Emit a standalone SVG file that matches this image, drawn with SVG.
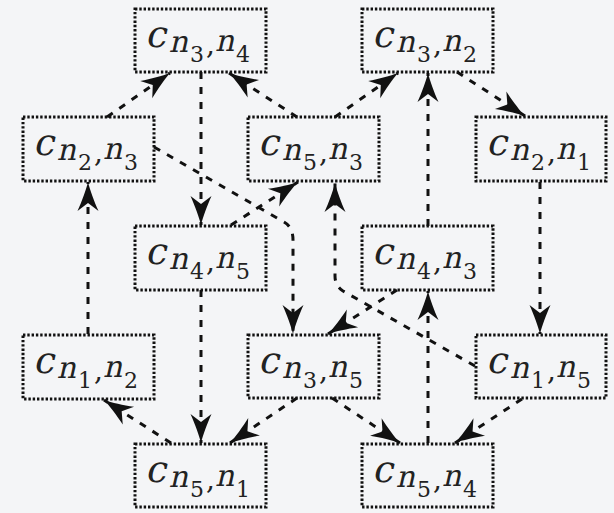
<svg xmlns="http://www.w3.org/2000/svg" width="614" height="513" viewBox="0 0 614 513">
  <style>
    .box { fill: none; stroke: #111; stroke-width: 3; stroke-dasharray: 2.4 1.9; }
    .edge { fill: none; stroke: #111; stroke-width: 3; stroke-dasharray: 7 8; marker-end: url(#head); }
    .lbl { font-family: "DejaVu Serif", serif; fill: #222; }
    .c { font-size: 37px; }
    .n { font-size: 30px; }
    .d { font-size: 22px; }
    .k { font-size: 28px; }
  </style>
  <defs>
    <!-- concave spearhead arrow, tip at (30,11) -->
    <marker id="head" markerUnits="userSpaceOnUse" markerWidth="32" markerHeight="24" refX="30" refY="11" orient="auto" overflow="visible">
      <path d="M30,11 C22,9 11,5 1,0.5 L9,11 L1,21.5 C11,17 22,13 30,11 Z" fill="#111"/>
    </marker>
  </defs>

  <rect width="614" height="513" fill="#f4f5f7"/>

  <!-- connectors -->
  <g id="edges">
    <path class="edge" d="M107,117 L170,73"/>
    <path class="edge" d="M201,72 L201,225"/>
    <path class="edge" d="M297,117 L229,73"/>
    <path class="edge" d="M335,117 L398,73"/>
    <path class="edge" d="M428,226 L428,73"/>
    <path class="edge" d="M457,72 L525,116"/>
    <path class="edge" d="M540,182 L540,334"/>
    <path class="edge" d="M88,334 L88,182"/>
    <path class="edge" d="M231,225 L298,182"/>
    <path class="edge" d="M154,147 L284,222 Q293,227 293,240 L293,334"/>
    <path class="edge" d="M475,366 L343,291 Q335,286 335,276 L335,183"/>
    <path class="edge" d="M397,290 L328,334"/>
    <path class="edge" d="M201,290 L201,443"/>
    <path class="edge" d="M171,443 L104,400"/>
    <path class="edge" d="M297,398 L230,443"/>
    <path class="edge" d="M332,398 L400,443"/>
    <path class="edge" d="M522,399 L455,443"/>
    <path class="edge" d="M428,443 L428,291"/>
  </g>

  <!-- nodes: letters are slanted, indices stay upright -->
  <g id="n3n4" transform="translate(135,9)">
    <rect class="box" width="131" height="63"/>
    <text class="lbl" transform="translate(0,42) skewX(-13) translate(0,-42)"><tspan class="c" x="9" y="38">c</tspan><tspan class="n" x="34" y="43">n</tspan><tspan class="n" x="80" y="42">n</tspan></text>
    <text class="lbl"><tspan class="d" x="55" y="53">3</tspan><tspan class="k" x="71" y="45">,</tspan><tspan class="d" x="101" y="53">4</tspan></text>
  </g>
  <g id="n3n2" transform="translate(362,9)">
    <rect class="box" width="131" height="63"/>
    <text class="lbl" transform="translate(0,42) skewX(-13) translate(0,-42)"><tspan class="c" x="9" y="38">c</tspan><tspan class="n" x="34" y="43">n</tspan><tspan class="n" x="80" y="42">n</tspan></text>
    <text class="lbl"><tspan class="d" x="55" y="53">3</tspan><tspan class="k" x="71" y="45">,</tspan><tspan class="d" x="101" y="53">2</tspan></text>
  </g>
  <g id="n2n3" transform="translate(23,117)">
    <rect class="box" width="131" height="64"/>
    <text class="lbl" transform="translate(0,42) skewX(-13) translate(0,-42)"><tspan class="c" x="9" y="38">c</tspan><tspan class="n" x="34" y="43">n</tspan><tspan class="n" x="80" y="42">n</tspan></text>
    <text class="lbl"><tspan class="d" x="55" y="53">2</tspan><tspan class="k" x="71" y="45">,</tspan><tspan class="d" x="101" y="53">3</tspan></text>
  </g>
  <g id="n5n3" transform="translate(248,117)">
    <rect class="box" width="131" height="64"/>
    <text class="lbl" transform="translate(0,42) skewX(-13) translate(0,-42)"><tspan class="c" x="9" y="38">c</tspan><tspan class="n" x="34" y="43">n</tspan><tspan class="n" x="80" y="42">n</tspan></text>
    <text class="lbl"><tspan class="d" x="55" y="53">5</tspan><tspan class="k" x="71" y="45">,</tspan><tspan class="d" x="101" y="53">3</tspan></text>
  </g>
  <g id="n2n1" transform="translate(476,117)">
    <rect class="box" width="130" height="64"/>
    <text class="lbl" transform="translate(0,42) skewX(-13) translate(0,-42)"><tspan class="c" x="9" y="38">c</tspan><tspan class="n" x="34" y="43">n</tspan><tspan class="n" x="80" y="42">n</tspan></text>
    <text class="lbl"><tspan class="d" x="55" y="53">2</tspan><tspan class="k" x="71" y="45">,</tspan><tspan class="d" x="101" y="53">1</tspan></text>
  </g>
  <g id="n4n5" transform="translate(135,226)">
    <rect class="box" width="131" height="64"/>
    <text class="lbl" transform="translate(0,42) skewX(-13) translate(0,-42)"><tspan class="c" x="9" y="38">c</tspan><tspan class="n" x="34" y="43">n</tspan><tspan class="n" x="80" y="42">n</tspan></text>
    <text class="lbl"><tspan class="d" x="55" y="53">4</tspan><tspan class="k" x="71" y="45">,</tspan><tspan class="d" x="101" y="53">5</tspan></text>
  </g>
  <g id="n4n3" transform="translate(362,226)">
    <rect class="box" width="131" height="64"/>
    <text class="lbl" transform="translate(0,42) skewX(-13) translate(0,-42)"><tspan class="c" x="9" y="38">c</tspan><tspan class="n" x="34" y="43">n</tspan><tspan class="n" x="80" y="42">n</tspan></text>
    <text class="lbl"><tspan class="d" x="55" y="53">4</tspan><tspan class="k" x="71" y="45">,</tspan><tspan class="d" x="101" y="53">3</tspan></text>
  </g>
  <g id="n1n2" transform="translate(23,335)">
    <rect class="box" width="131" height="64"/>
    <text class="lbl" transform="translate(0,42) skewX(-13) translate(0,-42)"><tspan class="c" x="9" y="38">c</tspan><tspan class="n" x="34" y="43">n</tspan><tspan class="n" x="80" y="42">n</tspan></text>
    <text class="lbl"><tspan class="d" x="55" y="53">1</tspan><tspan class="k" x="71" y="45">,</tspan><tspan class="d" x="101" y="53">2</tspan></text>
  </g>
  <g id="n3n5" transform="translate(248,335)">
    <rect class="box" width="131" height="63"/>
    <text class="lbl" transform="translate(0,42) skewX(-13) translate(0,-42)"><tspan class="c" x="9" y="38">c</tspan><tspan class="n" x="34" y="43">n</tspan><tspan class="n" x="80" y="42">n</tspan></text>
    <text class="lbl"><tspan class="d" x="55" y="53">3</tspan><tspan class="k" x="71" y="45">,</tspan><tspan class="d" x="101" y="53">5</tspan></text>
  </g>
  <g id="n1n5" transform="translate(476,335)">
    <rect class="box" width="130" height="63"/>
    <text class="lbl" transform="translate(0,42) skewX(-13) translate(0,-42)"><tspan class="c" x="9" y="38">c</tspan><tspan class="n" x="34" y="43">n</tspan><tspan class="n" x="80" y="42">n</tspan></text>
    <text class="lbl"><tspan class="d" x="55" y="53">1</tspan><tspan class="k" x="71" y="45">,</tspan><tspan class="d" x="101" y="53">5</tspan></text>
  </g>
  <g id="n5n1" transform="translate(135,444)">
    <rect class="box" width="131" height="63"/>
    <text class="lbl" transform="translate(0,42) skewX(-13) translate(0,-42)"><tspan class="c" x="9" y="38">c</tspan><tspan class="n" x="34" y="43">n</tspan><tspan class="n" x="80" y="42">n</tspan></text>
    <text class="lbl"><tspan class="d" x="55" y="53">5</tspan><tspan class="k" x="71" y="45">,</tspan><tspan class="d" x="101" y="53">1</tspan></text>
  </g>
  <g id="n5n4" transform="translate(362,444)">
    <rect class="box" width="131" height="63"/>
    <text class="lbl" transform="translate(0,42) skewX(-13) translate(0,-42)"><tspan class="c" x="9" y="38">c</tspan><tspan class="n" x="34" y="43">n</tspan><tspan class="n" x="80" y="42">n</tspan></text>
    <text class="lbl"><tspan class="d" x="55" y="53">5</tspan><tspan class="k" x="71" y="45">,</tspan><tspan class="d" x="101" y="53">4</tspan></text>
  </g>
</svg>
